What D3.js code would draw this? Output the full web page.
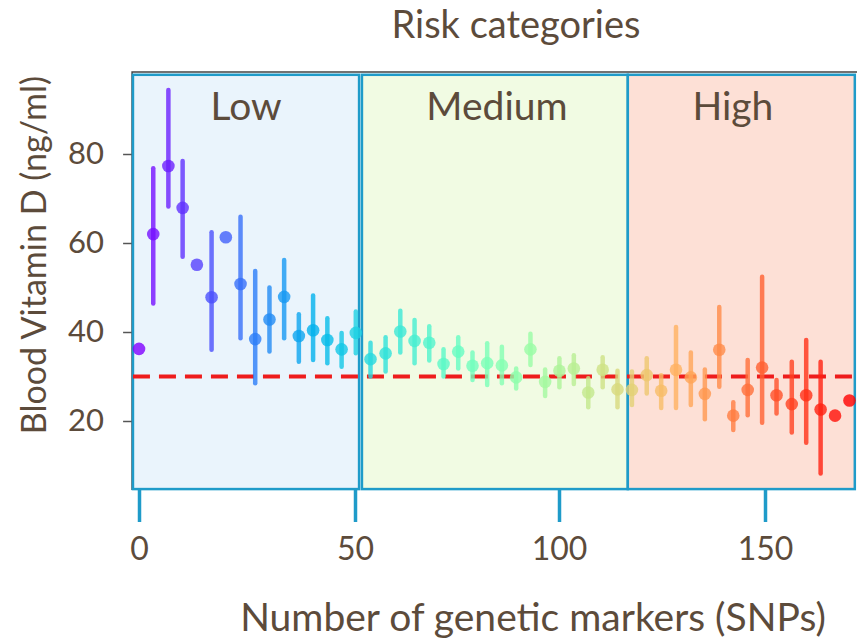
<!DOCTYPE html>
<html>
<head>
<meta charset="utf-8">
<script src="https://cdn.jsdelivr.net/npm/d3@7"></script>
<style>
  body { margin: 0; background: #fff; }
  text { font-family: Lato, 'Open Sans', sans-serif; fill: #5c4b3b; }
</style>
</head>
<body>
<div id="chart"></div>
<script>
// SNP bins (x), mean vitamin D, lower and upper error bar ends (null = no bar)
const snps = [0, 3.3, 6.8, 10.1, 13.4, 16.8, 20.1, 23.5, 26.9, 30.2, 33.6, 37.0, 40.3, 43.6, 46.9, 50.2,
  53.8, 57.5, 61.1, 64.6, 68.2, 71.7, 75.3, 78.8, 82.4, 86.0, 89.5, 93.0, 96.6, 100.1, 103.6, 107.1, 110.6, 114.2,
  117.7, 121.3, 124.8, 128.4, 132.0, 135.4, 138.9, 142.3, 145.8, 149.3, 152.8, 156.5, 160.0, 163.5, 167.0, 170.5]
const vitD = [36.2, 62.0, 77.3, 67.9, 55.1, 47.8, 61.3, 50.8, 38.4, 42.8, 47.9, 39.1, 40.4, 38.2, 36.1, 39.8,
  33.9, 35.2, 40.1, 38.0, 37.6, 32.8, 35.6, 32.4, 33.0, 32.5, 29.8, 36.1, 28.8, 31.3, 31.8, 26.4, 31.5, 27.1,
  27.0, 30.3, 26.8, 31.5, 29.8, 26.1, 36.0, 21.2, 27.0, 32.0, 25.8, 23.8, 25.8, 22.6, 21.2, 24.6]
const errLow = [null, 46.4, 68.2, 56.9, null, 36.0, null, 38.6, 28.5, 35.6, 38.6, 33.3, 33.7, 33.0, 32.2, 35.2,
  30.0, 31.1, 35.4, 33.0, 33.6, 30.0, 31.8, 29.2, 28.1, 28.5, 27.3, 32.6, 25.6, 27.6, 28.3, 23.1, 27.6, 23.1,
  23.6, 26.2, 22.9, 22.9, 23.6, 20.4, 27.7, 18.0, 21.3, 19.6, 21.7, 17.4, 15.1, 8.2, null, null]
const errHigh = [null, 76.8, 94.4, 78.4, null, 62.4, null, 65.9, 53.7, 50.0, 56.2, 44.0, 48.2, 43.1, 39.8, 44.6,
  37.6, 38.8, 44.8, 42.7, 41.3, 36.1, 38.8, 35.4, 37.5, 36.7, 31.8, 39.6, 31.6, 34.1, 34.8, 29.6, 34.3, 31.3,
  31.1, 34.1, 30.3, 41.1, 35.4, 31.6, 45.6, 24.2, 33.7, 52.4, 29.2, 33.3, 38.2, 33.3, null, null]

const categories = ['Low', 'Medium', 'High']
const catStart = [-1.4, 51.7, 116.7]
const catEnd = [51.0, 116.7, 171.8]
const catLabelAt = [24.8, 84.8, 142.2]
const catFill = ['#eaf4fc', '#f1fbe3', '#fde0d6']

const xTicks = [0, 50, 100, 150]
const yTicks = [20, 40, 60, 80]
const threshold = 30

const WIDTH = 857
const HEIGHT = 641

const svg = d3.select('#chart')
  .append('svg')
  .attr('width', WIDTH)
  .attr('height', HEIGHT)

// the source figure's x axis is slightly uneven, so piecewise
const x = d3.scaleLinear().domain([0, 50, 100, 150]).range([139, 355, 559, 765])
const y = d3.scaleLinear().domain([20, 80]).range([421, 154])

// matplotlib-style rainbow colormap
const rainbow = t => {
  const c = v => Math.round(Math.max(0, Math.min(1, v)) * 255)
  return `rgb(${c(Math.abs(2 * t - 0.5))},${c(Math.sin(Math.PI * t))},${c(Math.cos(Math.PI * t / 2))})`
}
const color = d3.scaleSequential(rainbow).domain([0, snps.length - 1])

// frame (top + left)
svg.append('path')
  .attr('d', `M${x(-1.6)},${y(4.5)}V${y(98.4)}H${WIDTH}`)
  .attr('fill', 'none')
  .attr('stroke', '#444')
  .attr('stroke-width', 1.5)

// y axis
const yAxis = svg.append('g')
  .attr('transform', `translate(${x(-1.6)},0)`)
  .call(d3.axisLeft(y).tickValues(yTicks).tickSize(9).tickPadding(19))
yAxis.select('.domain').remove()
yAxis.selectAll('line').attr('stroke', '#555').attr('stroke-width', 1.5)
yAxis.selectAll('text').attr('font-size', '31px').attr('font-family', 'Lato').attr('fill', '#5c4b3b')

// category boxes
const boxes = svg.append('g')
categories.forEach((c, i) => {
  boxes.append('rect')
    .attr('x', x(catStart[i]))
    .attr('y', y(97.8))
    .attr('width', x(catEnd[i]) - x(catStart[i]))
    .attr('height', y(4.7) - y(97.8))
    .attr('fill', catFill[i])
    .attr('stroke', '#1f9bc9')
    .attr('stroke-width', 2.5)
  boxes.append('text')
    .attr('x', x(catLabelAt[i]))
    .attr('y', 120)
    .attr('text-anchor', 'middle')
    .attr('font-size', '39px')
    .text(c)
})

// threshold line
svg.append('line')
  .attr('x1', x(-1.4))
  .attr('x2', WIDTH)
  .attr('y1', y(threshold))
  .attr('y2', y(threshold))
  .attr('stroke', '#ee1c1c')
  .attr('stroke-width', 4)
  .attr('stroke-dasharray', '17 9')

// error bars + points
const pts = svg.append('g')
snps.forEach((s, i) => {
  if (errLow[i] !== null) {
    pts.append('line')
      .attr('x1', x(s)).attr('x2', x(s))
      .attr('y1', y(errLow[i])).attr('y2', y(errHigh[i]))
      .attr('stroke', color(i))
      .attr('stroke-opacity', 0.8)
      .attr('stroke-width', 4.5)
      .attr('stroke-linecap', 'round')
  }
  pts.append('circle')
    .attr('cx', x(s))
    .attr('cy', y(vitD[i]))
    .attr('r', 6.3)
    .attr('fill', color(i))
    .attr('fill-opacity', 0.8)
})

// x axis
const xAxis = svg.append('g')
  .attr('transform', `translate(0,${y(4.5)})`)
  .call(d3.axisBottom(x).tickValues(xTicks).tickSize(32).tickPadding(15))
xAxis.select('.domain').remove()
xAxis.selectAll('line').attr('stroke', '#1f9bc9').attr('stroke-width', 3.5)
xAxis.selectAll('text').attr('font-size', '32px').attr('font-family', 'Lato').attr('fill', '#5c4b3b')

// titles
svg.append('text')
  .attr('x', 516)
  .attr('y', 38)
  .attr('text-anchor', 'middle')
  .attr('font-size', '38px')
  .text('Risk categories')

svg.append('text')
  .attr('x', 533)
  .attr('y', 631)
  .attr('text-anchor', 'middle')
  .attr('font-size', '39px')
  .text('Number of genetic markers (SNPs)')

svg.append('text')
  .attr('transform', 'translate(46,255) rotate(-90)')
  .attr('text-anchor', 'middle')
  .attr('font-size', '34px')
  .text('Blood Vitamin D (ng/ml)')
</script>
</body>
</html>
